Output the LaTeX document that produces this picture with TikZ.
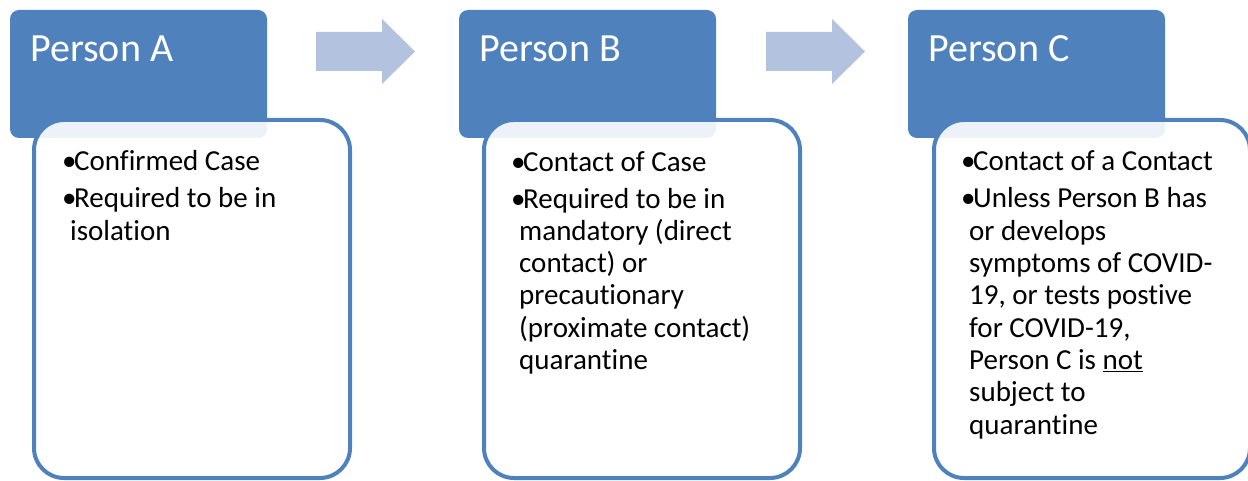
\documentclass[tikz,border=0pt]{standalone}
\usepackage{fontspec}
\setmainfont{Carlito}[Ligatures=NoCommon]
\usetikzlibrary{positioning}
\definecolor{hdrblue}{HTML}{4F81BD}
\definecolor{arrblue}{HTML}{B3C2DE}
\newcommand{\bul}{\makebox[12pt][l]{•}}
\newcommand{\ind}{\hspace*{8pt}}

\begin{document}
\begin{tikzpicture}[x=1pt,y=-1pt,
  header/.style={fill=hdrblue, rounded corners=9pt, minimum width=257pt, minimum height=128pt, inner sep=0pt},
  bodybox/.style={draw=hdrblue, line width=4pt, fill=white, fill opacity=0.9, rounded corners=30pt, minimum width=316pt, minimum height=358pt, inner sep=0pt},
  title/.style={anchor=base west, text=white, inner sep=0pt, font=\fontsize{40}{44}\selectfont},
  items/.style={anchor=base west, align=left, inner sep=0pt, font=\fontsize{29}{32.3}\selectfont}]
\useasboundingbox (0,0) rectangle (1248,481);

% headers
\node[header] (hdrA) at (138.5,74) {};
\node[header] (hdrB) at (587.5,74) {};
\node[header] (hdrC) at (1036.5,74) {};

% arrows
\fill[arrblue] (316,32) -- (382,32) -- (382,19) -- (415,51.5) -- (382,84) -- (382,71) -- (316,71) -- cycle;
\fill[arrblue] (766,32) -- (832,32) -- (832,19) -- (865,51.5) -- (832,84) -- (832,71) -- (766,71) -- cycle;

% bodies
\node[bodybox] (bodyA) at (192,299) {};
\node[bodybox] (bodyB) at (642,299) {};
\node[bodybox] (bodyC) at (1092,299) {};

% titles
\node[title] (titleA) at (30,62) {Person A};
\node[title] (titleB) at (479,62) {Person B};
\node[title] (titleC) at (928,62) {Person C};

% items (base = last line)
\node[items] (itemsA) at (62,240.3) {\bul Confirmed Case\\[4.7pt]
\bul Required to be in\\
\ind isolation};
\node[items] (itemsB) at (511,369.5) {\bul Contact of Case\\[4.7pt]
\bul Required to be in\\
\ind mandatory (direct\\
\ind contact) or\\
\ind precautionary\\
\ind (proximate contact)\\
\ind quarantine};
\node[items] (itemsC) at (961,434) {\bul Contact of a Contact\\[4.7pt]
\bul Unless Person B has\\
\ind or develops\\
\ind symptoms of COVID-\\
\ind 19, or tests postive\\
\ind for COVID-19,\\
\ind Person C is \underline{not}\\
\ind subject to\\
\ind quarantine};
\end{tikzpicture}
\end{document}
